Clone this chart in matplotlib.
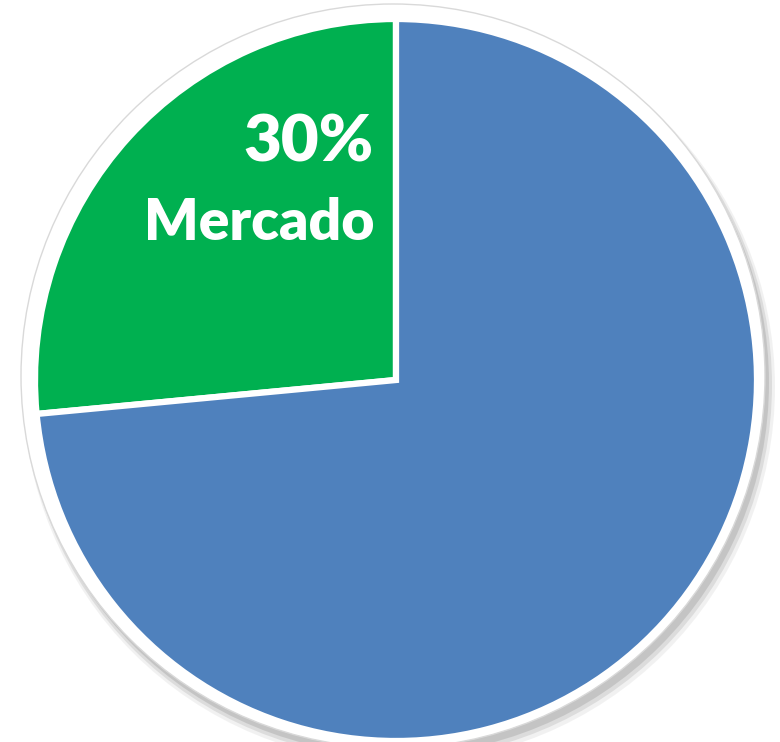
import matplotlib
matplotlib.use("Agg")
import matplotlib.pyplot as plt
from matplotlib.patches import Circle

# pie data (green slice is drawn first, starting at 12 o'clock)
labels = ["Mercado", "Otros"]
shares = [26.5, 73.5]
colors = ["#00B050", "#4F81BD"]
label_text = ["30%", "Mercado"]

W, H = 780, 742
fig = plt.figure(figsize=(W / 100, H / 100), dpi=100)
ax = fig.add_axes([0, 0, 1, 1])

cx, cy, r = 396, H - 380, 361

# soft disk behind the pie, with a grey rim as shadow
for dr, dx, dy, a in [(15, 3, -7, 0.10), (13, 2, -5, 0.18), (11, 1, -3, 0.25)]:
    ax.add_patch(Circle((cx + dx, cy + dy), r + dr, facecolor="#7f7f7f", alpha=a,
                        edgecolor="none", zorder=1))
ax.add_patch(Circle((cx - 3, cy + 4), r + 11, facecolor="white",
                    edgecolor="#d9d9d9", linewidth=1.0, zorder=2))

wedges, _ = ax.pie(shares, colors=colors, startangle=90, counterclock=True,
                   center=(cx, cy), radius=r, frame=True,
                   wedgeprops={"edgecolor": "white", "linewidth": 4.5})
for w in wedges:
    w.set_zorder(3)

ax.set_xlim(0, W)
ax.set_ylim(0, H)
ax.axis("off")

ax.text(374, H - 143, label_text[0], ha="right", va="center", color="white",
        fontsize=47, fontweight="heavy", family="Lato", zorder=5)
ax.text(374, H - 223, label_text[1], ha="right", va="center", color="white",
        fontsize=41, fontweight="heavy", family="Lato", zorder=5)

fig.savefig("out.png", dpi=100)
